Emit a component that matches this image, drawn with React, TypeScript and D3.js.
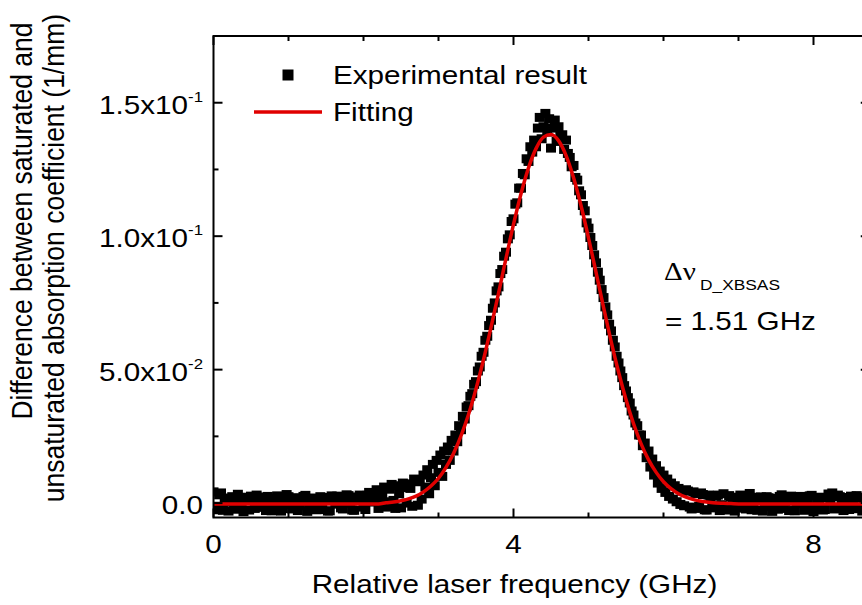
import React from 'react';
import * as d3 from 'd3';

// ---------- data ----------
// Experimental points, scan A: every 0.05 GHz starting at 0 GHz, values in 10^-3 1/mm
const EXP_A_START_GHZ = 0;
const EXP_STEP_GHZ = 0.05;
const expAValuesE3 = [
  4.2, -2.5, 3.8, 0.5, -3.0, 2.4, -1.0, 2.0, -3.2, 1.2,
  2.6, -2.0, 0.8, 2.3, -2.8, 1.5, -0.5, 2.7, -3.0, 0.6,
  2.4, -2.2, 1.8, -1.0, 2.5, -3.1, 0.9, 1.9, -2.4, 0.2,
  2.1, -2.9, 1.4, 2.6, -1.8, 0.7, 2.8, -2.6, 1.6, 3.0,
  -1.5, 2.9, 0.4, 3.6, -2.0,
  3.5, -1.5, 5.2, 1.0, 6.5, -1.8, 5.8, 7.2, -1.2, 8.4,
  8.0, 10.5, 12.5, 9.5, 6.5, 11.5, 10.0, 14.5, 16.0, 19.5,
  23.0, 27.5, 31.5, 36.5, 41.0, 45.5, 51.0, 56.5, 62.5, 68.5,
  75.0, 81.0, 87.5, 94.0, 100.5, 106.5, 112.5, 118.0, 123.0, 128.0,
  131.5, 133.5, 144.5, 141.0, 139.0, 133.0, 143.5, 141.0, 138.0, 136.0,
  129.5, 126.5, 121.0, 115.5, 109.5, 103.0, 96.5, 90.0, 83.5, 77.0,
  70.5, 64.5, 58.5, 52.5, 47.0, 42.0, 37.5, 33.0, 29.0, 25.5,
  22.5, 19.5, 16.5, 14.0, 12.0, 10.5, 9.0, 7.5, 6.5, 5.5,
  4.5, 5.0, -1.5, 4.2, -2.0, 3.8, -2.5, 3.0, -1.0, 2.6, -2.8,
  3.5, -1.5, 2.2, -3.0, 1.0, 2.4, -2.2, 3.6, 0.3, -2.7,
  2.3, -1.2, 2.0, -3.1, 1.5, 2.5, -2.0, 0.8, 2.6, -2.9,
  1.2, 2.1, -1.6, 2.7, -3.2, 0.9, 2.2, -2.4, 3.4, 3.8,
  -1.8, 2.4, -2.8, 1.0, 2.6, -2.1, 1.8, -3.0, 2.2,
];

// Experimental points, scan B: every 0.05 GHz starting at 0.025 GHz, values in 10^-3 1/mm
const EXP_B_START_GHZ = 0.025;
const expBValuesE3 = [
  -1.2, 3.1, -2.7, 1.9, 0.4, -2.3, 3.3, -0.8, 2.2, -2.6,
  1.0, 3.0, -1.6, -0.3, 2.5, -2.9, 1.7, 0.2, -2.1, 3.2,
  -0.6, 2.0, -2.8, 1.3, 2.9, -1.9, 0.5, -2.5, 2.4, 1.1,
  -3.0, 2.7, -0.4, 1.8, -2.2, 3.1, 0.0, -2.7, 2.3, 1.5,
  -2.4, 4.0, 1.2, 5.0, 0.3,
  6.0, 0.5, 7.0, -2.0, 3.5, 7.5, 0.0, 5.5, 9.0, -0.8,
  1.5, 6.0, 3.5, 14.5, 16.0, 18.0, 19.5, 21.0, 23.5, 25.5,
  29.0, 32.5, 36.0, 40.0, 44.5, 49.5, 55.0, 61.0, 66.5, 73.0,
  79.5, 86.0, 92.5, 99.0, 105.5, 112.0, 118.0, 123.5, 129.0, 133.5,
  136.0, 140.5, 136.5, 146.0, 144.0, 140.5, 135.5, 137.5, 132.5, 131.0,
  126.0, 122.0, 117.0, 111.5, 105.0, 99.5, 93.0, 86.5, 80.0, 73.5,
  67.0, 61.0, 55.0, 49.5, 44.0, 39.5, 34.5, 30.0, 25.5, 21.5,
  17.0, 13.5, 10.5, 7.5, 5.5, 4.0, 2.5, 1.5, 0.5, -0.5,
  -1.0, 4.5, -2.2, 3.6, -1.2, 3.2, -2.6, 2.4, -1.8, 3.0, -0.6,
  -2.6, 2.8, 0.2, -1.9, 3.0, -0.7, 1.6, -2.5, 2.2, 1.0,
  -3.0, 2.4, -1.1, 1.8, -2.3, 3.1, 0.4, -2.8, 1.9, -0.2,
  2.5, -2.7, 1.3, 2.9, -1.4, 0.6, -2.6, 2.0, 1.5, -2.2,
  3.0, -0.9, 2.1, -2.4, 1.4, 2.8, -1.7, 0.7,
];

// Fitted curve: sampled every 0.1 GHz starting at 0 GHz, values in 10^-3 1/mm
const FIT_START_GHZ = 0;
const FIT_STEP_GHZ = 0.1;
const fitValuesE3 = [
  -0.3, -0.3, -0.3, -0.3, -0.3, -0.3, -0.3, -0.3, -0.3, -0.3,
  -0.3, -0.3, -0.3, -0.3, -0.3, -0.3, -0.3, -0.3, -0.3, -0.3,
  -0.3, -0.3, -0.3,
  0.1, 0.4, 0.9, 1.6, 2.6, 4.2, 6.4, 9.3, 13.4, 18.6,
  25.2, 33.2, 42.8, 53.7, 65.8, 78.6, 91.7, 104.4, 115.9, 125.6,
  132.8, 137.1, 138.1, 135.8, 130.3, 122.0, 111.5, 99.4, 86.5, 73.4,
  60.8, 49.2, 38.8, 29.8, 22.3, 16.3, 11.6, 8.0, 5.4, 3.5,
  2.2, 1.3, 0.7, 0.3, 0.0, -0.1, -0.2,
  -0.3, -0.3, -0.3, -0.3, -0.3, -0.3, -0.3, -0.3, -0.3, -0.3,
  -0.3, -0.3, -0.3, -0.3, -0.3, -0.3, -0.3, -0.3,
];

const xMajorTicks = [0, 4, 8];
const xMajorLabels = ['0', '4', '8'];
const xMinorTicks = [1, 2, 3, 5, 6, 7];
const yMajorTicks = [0, 0.05, 0.1, 0.15];
const yMajorMantissa = ['0.0', '5.0x10', '1.0x10', '1.5x10'];
const yMajorExponent = ['', '-2', '-1', '-1'];
const yMinorTicks = [0.025, 0.075, 0.125];
const legendLabels = ['Experimental result', 'Fitting'];
const xTitle = 'Relative laser frequency (GHz)';
const yTitleLines = ['Difference between saturated and', 'unsaturated absorption coefficient (1/mm)'];
const annotationSymbol = '\u0394\u03BD';
const annotationSub = 'D_XBSAS';
const annotationValue = '= 1.51 GHz';

// ---------- layout ----------
const W = 862;
const H = 605;
const SX = 1.12; // horizontal stretch of the reference text
const FONT = '"Liberation Sans", Arial, Helvetica, sans-serif';
const FS = 26.5;
const RED = '#e00000';
const SQ_W = 10;
const SQ_H = 9;

const x = d3.scaleLinear().domain([0, 8.75]).range([213.5, 869.75]);
const y = d3.scaleLinear().domain([-0.0054, 0.175]).range([517.5, 36]);

const PL = x(0);
const PR = x(8.75);
const PT = y(0.175);
const PB = y(-0.0054);

function T(props: { x: number; y: number; anchor?: string; size?: number; rotate?: boolean; family?: string; children: any }) {
  const tr = `translate(${props.x},${props.y}) scale(${SX},1)${props.rotate ? ' rotate(-90)' : ''}`;
  return (
    <text
      transform={tr}
      textAnchor={props.anchor || 'start'}
      fontFamily={props.family || FONT}
      fontSize={props.size || FS}
      fill="#000"
    >
      {props.children}
    </text>
  );
}

export default function App() {
  const expPoints = [
    ...expAValuesE3.map((v, i) => ({ f: EXP_A_START_GHZ + i * EXP_STEP_GHZ, v: v / 1000 })),
    ...expBValuesE3.map((v, i) => ({ f: EXP_B_START_GHZ + i * EXP_STEP_GHZ, v: v / 1000 })),
  ];
  const fitPoints = fitValuesE3.map((v, i) => ({ f: FIT_START_GHZ + i * FIT_STEP_GHZ, v: v / 1000 }));
  const line = d3
    .line<{ f: number; v: number }>()
    .x((d) => x(d.f))
    .y((d) => y(d.v))
    .curve(d3.curveMonotoneX);

  const MAJ = 9;
  const MIN = 5;

  return (
    <svg width={W} height={H} style={{ position: 'absolute', left: 0, top: 0, background: '#fff' }}>
      <defs>
        <clipPath id="plotclip">
          <rect x={PL} y={PT} width={PR - PL} height={PB - PT} />
        </clipPath>
      </defs>
      <rect x={0} y={0} width={W} height={H} fill="#fff" />

      {/* data */}
      <g clipPath="url(#plotclip)">
        {expPoints.map((d, i) => (
          <rect key={i} x={x(d.f) - SQ_W / 2} y={y(d.v) - SQ_H / 2} width={SQ_W} height={SQ_H} fill="#000" />
        ))}
        <path d={line(fitPoints) || ''} fill="none" stroke={RED} strokeWidth={3.5} />
      </g>

      {/* frame */}
      <g stroke="#000" strokeWidth={2} fill="none">
        <rect x={PL} y={PT} width={PR - PL} height={PB - PT} />
        {xMajorTicks.map((t) => (
          <g key={'xM' + t}>
            <line x1={x(t)} x2={x(t)} y1={PB} y2={PB - MAJ} />
            <line x1={x(t)} x2={x(t)} y1={PT} y2={PT + MAJ} />
          </g>
        ))}
        {xMinorTicks.map((t) => (
          <g key={'xm' + t}>
            <line x1={x(t)} x2={x(t)} y1={PB} y2={PB - MIN} />
            <line x1={x(t)} x2={x(t)} y1={PT} y2={PT + MIN} />
          </g>
        ))}
        {yMajorTicks.map((t) => (
          <g key={'yM' + t}>
            <line x1={PL} x2={PL + MAJ} y1={y(t)} y2={y(t)} />
            <line x1={PR} x2={PR - MAJ} y1={y(t)} y2={y(t)} />
          </g>
        ))}
        {yMinorTicks.map((t) => (
          <g key={'ym' + t}>
            <line x1={PL} x2={PL + MIN} y1={y(t)} y2={y(t)} />
            <line x1={PR} x2={PR - MIN} y1={y(t)} y2={y(t)} />
          </g>
        ))}
      </g>

      {/* x tick labels */}
      {xMajorTicks.map((t, i) => (
        <T key={'xl' + t} x={x(t)} y={553} anchor="middle">
          {xMajorLabels[i]}
        </T>
      ))}
      {/* y tick labels */}
      {yMajorTicks.map((t, i) => (
        <T key={'yl' + t} x={203} y={y(t) + 11} anchor="end">
          {yMajorMantissa[i]}
          {yMajorExponent[i] ? (
            <tspan dy={-12} fontSize={15}>
              {yMajorExponent[i]}
            </tspan>
          ) : null}
        </T>
      ))}

      {/* axis titles */}
      <T x={514.5} y={593} anchor="middle">
        {xTitle}
      </T>
      <T x={32} y={221} anchor="middle" rotate>
        {yTitleLines[0]}
      </T>
      <T x={64} y={258} anchor="middle" rotate>
        {yTitleLines[1]}
      </T>

      {/* legend */}
      <rect x={288 - 5.5} y={75 - 5.5} width={11} height={11} fill="#000" />
      <T x={333} y={84}>
        {legendLabels[0]}
      </T>
      <line x1={254} x2={322} y1={112} y2={112} stroke={RED} strokeWidth={3.5} />
      <T x={333} y={121}>
        {legendLabels[1]}
      </T>

      {/* annotation */}
      <T x={664} y={280} size={26} family={'"Liberation Serif", "Times New Roman", serif'}>
        {annotationSymbol}
      </T>
      <T x={700} y={290} size={15.5}>
        {annotationSub}
      </T>
      <T x={665} y={330}>
        {annotationValue}
      </T>
    </svg>
  );
}
